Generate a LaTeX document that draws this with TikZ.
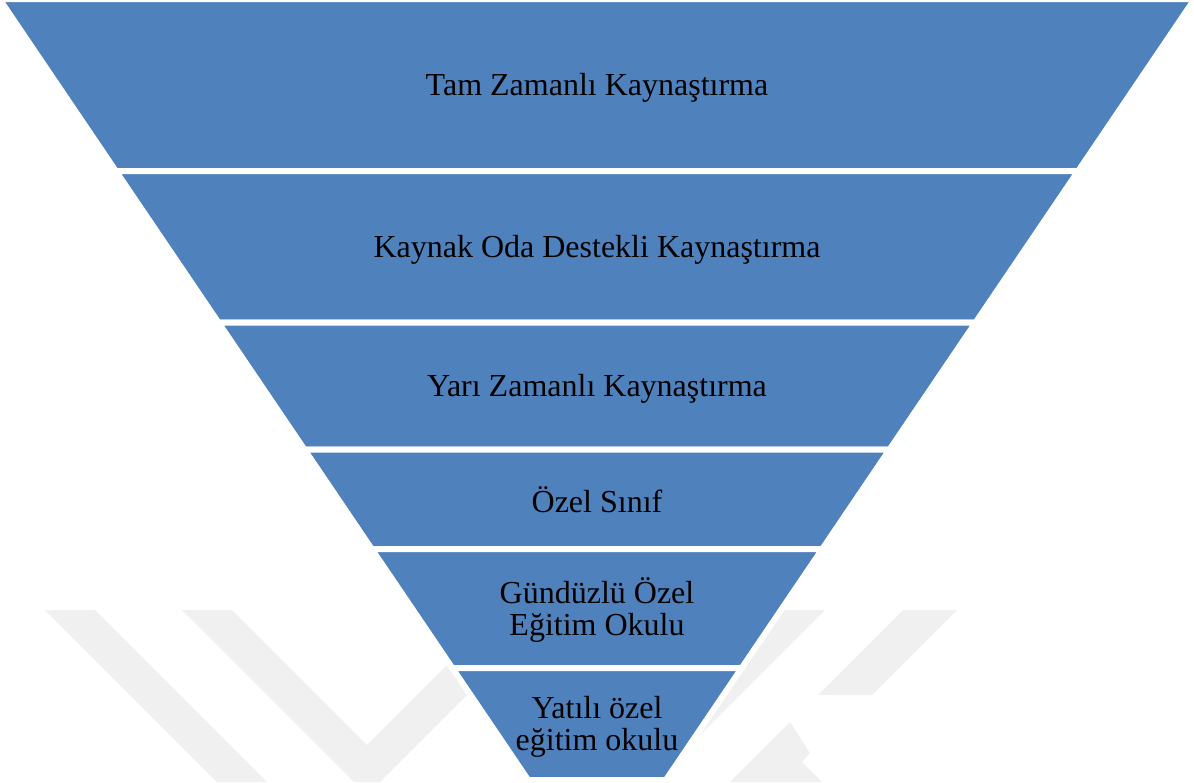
\documentclass[tikz,border=0pt]{standalone}
\usepackage{fontspec}
\setmainfont{Liberation Serif}
\usepackage{tikz}

\definecolor{levelblue}{HTML}{4F81BD}
\definecolor{markgray}{HTML}{F0F0F0}

\begin{document}
\begin{tikzpicture}[x=0.5pt,y=-0.5pt,
    level/.style={fill=levelblue,draw=white,line width=3pt,line join=miter},
    wmark/.style={fill=markgray},
    leveltext/.style={align=center,text=black,font=\fontsize{16}{16}\selectfont,inner sep=0pt}]
      \useasboundingbox (0,0) rectangle (1194,782);
      \fill[white] (0,0) rectangle (1194,782);

      % faint watermark behind the levels
      \fill[wmark] (45,610) -- (95,610) -- (267,782) -- (217,782) -- cycle;
      \fill[wmark] (182,610) -- (232,610) -- (367,745) -- (467,645) -- (517,645)
                  -- (380,782) -- (354,782) -- cycle;
      \fill[wmark] (780,610) -- (825,610) -- (640,795) -- (595,795) -- cycle;
      \fill[wmark] (903,610) -- (957,610) -- (872,695) -- (818,695) -- cycle;
      \fill[wmark] (790,722) -- (810,753) -- (802,762) -- (822,782) -- (730,782) -- cycle;

      % levels
      \filldraw[level] (-0.6,-1) -- (1194.6,-1) -- (1078.2,171) -- (115.8,171) -- cycle;
      \filldraw[level] (115.8,171) -- (1078.2,171) -- (975.6,322.5) -- (218.4,322.5) -- cycle;
      \filldraw[level] (218.4,322.5) -- (975.6,322.5) -- (889.6,449.5) -- (304.4,449.5) -- cycle;
      \filldraw[level] (304.4,449.5) -- (889.6,449.5) -- (822.3,549) -- (371.7,549) -- cycle;
      \filldraw[level] (371.7,549) -- (822.3,549) -- (741.7,668) -- (452.3,668) -- cycle;
      \filldraw[level] (452.3,668) -- (741.7,668) -- (665.9,780) -- (528.1,780) -- cycle;

      \node[leveltext] (tam) at (597,88) {Tam Zamanlı Kaynaştırma};
      \node[leveltext] (kaynak) at (597,250) {Kaynak Oda Destekli Kaynaştırma};
      \node[leveltext] (yari) at (597,389) {Yarı Zamanlı Kaynaştırma};
      \node[leveltext] (ozel) at (597,500) {Özel Sınıf};
      \node[leveltext] (gunduz) at (597,610) {Gündüzlü Özel\\Eğitim Okulu};
      \node[leveltext] (yatili) at (597,727) {Yatılı özel\\eğitim okulu};
    \end{tikzpicture}
\end{document}
